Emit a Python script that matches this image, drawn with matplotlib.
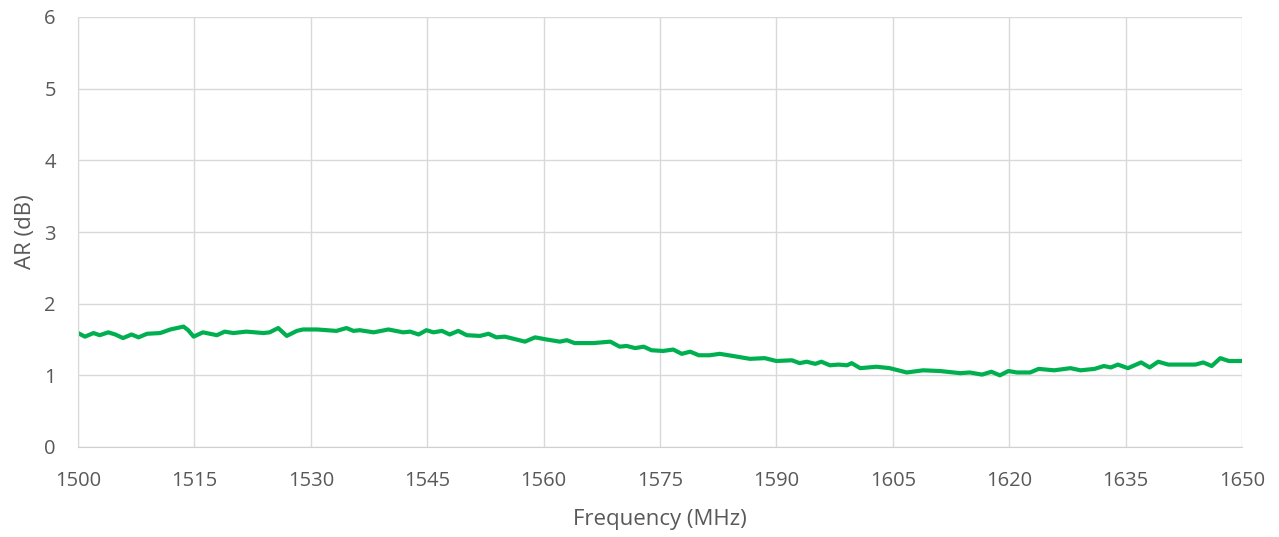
import matplotlib.pyplot as plt

# AR curve
freq = [1500, 1500.9, 1502, 1502.8, 1503.9, 1504.8, 1505.8, 1506.9, 1507.8, 1508.9,
        1510.6, 1511.9, 1513.6, 1514.2, 1514.9, 1516.1, 1517.9, 1518.9, 1520, 1521.7,
        1523.9, 1524.7, 1525.8, 1526.9, 1528.2, 1529, 1530.8, 1533.3, 1534.6, 1535.5,
        1536.3, 1538.1, 1540, 1541.9, 1542.8, 1543.9, 1544.9, 1545.8, 1546.9, 1547.9,
        1549, 1550.1, 1551.8, 1552.9, 1553.9, 1555, 1556.5, 1557.6, 1558.9, 1560.4,
        1562.1, 1563, 1564, 1566.4, 1568.6, 1569.8, 1570.7, 1571.8, 1572.9, 1573.9,
        1575.4, 1576.7, 1577.8, 1578.9, 1580, 1581.4, 1582.7, 1584.4, 1586.6, 1588.5,
        1590, 1592, 1593, 1593.9, 1595, 1595.8, 1596.9, 1598, 1599.1, 1599.7,
        1600.8, 1602.9, 1604.6, 1606.8, 1608.9, 1611.1, 1613.7, 1614.9, 1616.5, 1617.7,
        1618.8, 1619.9, 1621, 1622.7, 1623.8, 1625.8, 1627.9, 1629.2, 1631, 1632.2,
        1633.1, 1634, 1635.3, 1637, 1638.1, 1639.2, 1640.5, 1641.8, 1643.1, 1644,
        1645, 1646.1, 1647.2, 1648.3, 1650]
ar = [1.59, 1.54, 1.59, 1.56, 1.60, 1.57, 1.52, 1.57, 1.53, 1.58,
      1.59, 1.64, 1.68, 1.63, 1.54, 1.60, 1.56, 1.61, 1.59, 1.61,
      1.59, 1.60, 1.66, 1.55, 1.62, 1.64, 1.64, 1.62, 1.66, 1.62,
      1.63, 1.60, 1.64, 1.60, 1.61, 1.57, 1.63, 1.60, 1.62, 1.57,
      1.62, 1.56, 1.55, 1.58, 1.53, 1.54, 1.50, 1.47, 1.53, 1.50,
      1.47, 1.49, 1.45, 1.45, 1.47, 1.40, 1.41, 1.38, 1.40, 1.35,
      1.34, 1.36, 1.30, 1.33, 1.28, 1.28, 1.30, 1.27, 1.23, 1.24,
      1.20, 1.21, 1.17, 1.19, 1.16, 1.19, 1.14, 1.15, 1.14, 1.17,
      1.10, 1.12, 1.10, 1.04, 1.07, 1.06, 1.03, 1.04, 1.01, 1.05,
      1.00, 1.06, 1.04, 1.04, 1.09, 1.07, 1.10, 1.07, 1.09, 1.13,
      1.11, 1.15, 1.10, 1.18, 1.11, 1.19, 1.15, 1.15, 1.15, 1.15,
      1.18, 1.13, 1.24, 1.20, 1.20]

xticks = list(range(1500, 1651, 15))
yticks = list(range(0, 7))

plt.rcParams['font.family'] = ['Open Sans', 'DejaVu Sans']

fig = plt.figure(figsize=(12.79, 5.37), dpi=100)
ax = fig.add_axes([78 / 1279, 90 / 537, 1164 / 1279, 430 / 537])

ax.plot(freq, ar, color='#00B050', linewidth=3, solid_joinstyle='round')

ax.set_xlim(1500, 1650)
ax.set_ylim(0, 6)
ax.set_xticks(xticks)
ax.set_yticks(yticks)
ax.grid(True, color='#d9d9d9', linewidth=1)
ax.set_axisbelow(True)
ax.tick_params(length=0, labelsize=14.5, labelcolor='#595959')
ax.tick_params(axis='x', pad=17.5)
ax.tick_params(axis='y', pad=16)

for side in ['top', 'right']:
    ax.spines[side].set_visible(False)
ax.spines['left'].set_color('#d9d9d9')
ax.spines['bottom'].set_color('#d0d0d0')

ax.set_xlabel('Frequency (MHz)', fontsize=16, color='#595959', labelpad=13)
ax.set_ylabel('AR (dB)', fontsize=16, color='#595959', labelpad=6)

fig.savefig('out.png', dpi=100)
